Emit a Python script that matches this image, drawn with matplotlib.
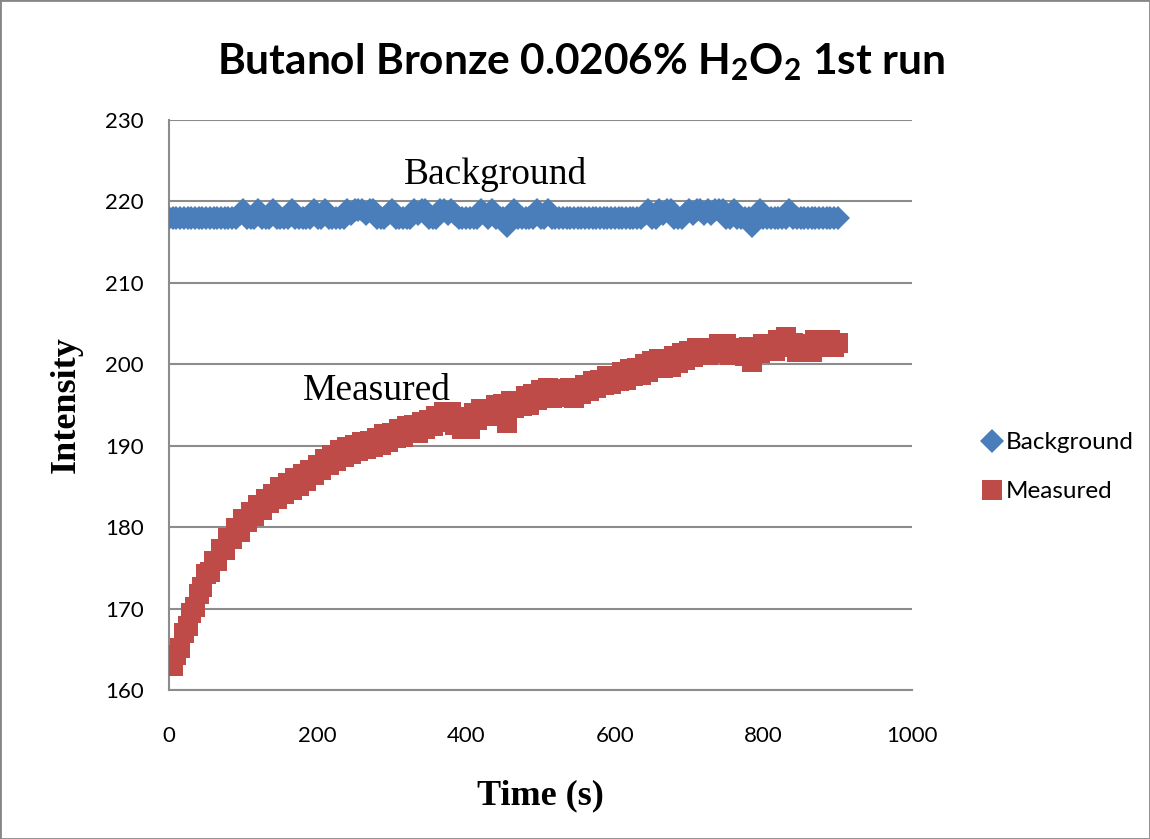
import numpy as np
import matplotlib
matplotlib.use("Agg")
import matplotlib.pyplot as plt
from matplotlib.patches import Rectangle

# sample times (s), one reading every 5 s
time_s = np.arange(0, 901, 5)

# background intensity, 181 readings
background = [
    218, 218, 218, 218, 218, 218, 218, 218, 218, 218,
    218, 218, 218, 218, 218, 218, 218, 218, 218, 218.5,
    219, 218, 218, 218, 219, 218, 218, 218, 219, 218,
    218, 218, 218, 219, 218, 218, 218, 218, 218, 219,
    218, 218, 219, 218, 218, 218, 218, 218, 219, 218.5,
    219, 219, 219, 218.5, 219, 219, 218, 218, 218, 218.5,
    219, 218, 218, 218, 218, 218, 219, 218.5, 219, 219,
    218, 218, 218, 219, 219, 218.5, 219, 218.5, 218, 218,
    218, 218, 218, 218, 219, 218.5, 218, 219, 218, 218,
    218, 217, 218, 219, 218, 218, 218, 218, 218, 219,
    218, 218, 219, 218, 218, 218, 218, 218, 218, 218,
    218, 218, 218, 218, 218, 218, 218, 218, 218, 218,
    218, 218, 218, 218, 218, 218, 218, 218, 218.5, 219,
    218, 218, 219, 218.5, 219, 219, 218, 218, 218, 218.5,
    219, 218.5, 219, 219, 218.5, 219, 218.5, 219, 219, 219,
    218, 218, 219, 218, 218, 218, 218, 217, 218, 219,
    218, 218, 218, 218, 218, 218, 218, 219, 218, 218,
    218, 218, 218, 218, 218, 218, 218, 218, 218, 218,
    218,
]

# measured intensity, 181 readings
measured = [
    163.0, 163.0, 164.3, 165.2, 167.0, 167.8, 169.5, 170.2, 171.8, 172.6,
    174.2, 174.5, 175.9, 175.9, 177.3, 177.2, 178.7, 178.5, 179.9, 179.4,
    181.0, 180.6, 181.9, 181.4, 182.7, 182.1, 183.5, 183.0, 184.1, 183.5,
    184.9, 184.1, 185.4, 184.6, 186.0, 185.1, 186.5, 185.7, 187.0, 186.4,
    187.6, 187.0, 188.4, 187.6, 188.9, 188.1, 189.5, 188.6, 189.9, 189.0,
    190.1, 189.4, 190.5, 189.6, 190.6, 189.9, 191.0, 190.1, 191.4, 190.5,
    191.6, 190.9, 192.0, 191.1, 192.4, 191.5, 192.6, 191.6, 192.9, 192.0,
    193.1, 192.4, 193.6, 192.9, 194.1, 193.0, 194.1, 192.6, 193.1, 192.0,
    193.5, 192.1, 194.0, 193.1, 194.5, 193.6, 194.5, 193.7, 195.0, 194.1,
    195.1, 192.8, 195.5, 194.6, 195.5, 194.9, 196.1, 195.0, 196.4, 195.6,
    196.9, 196.0, 197.1, 195.9, 197.0, 196.1, 196.9, 196.0, 197.1, 195.9,
    197.1, 196.3, 197.5, 196.7, 198.0, 197.1, 198.1, 197.4, 198.5, 197.6,
    198.6, 197.9, 199.0, 198.1, 199.4, 198.5, 199.6, 198.7, 200.0, 199.1,
    200.4, 199.5, 200.6, 199.5, 200.6, 199.7, 201.0, 200.1, 201.4, 200.5,
    201.6, 200.9, 202.0, 201.1, 202.0, 201.1, 202.0, 201.4, 202.5, 201.6,
    202.5, 201.1, 202.0, 201.1, 201.9, 201.0, 202.1, 200.3, 202.0, 201.4,
    202.5, 201.6, 202.5, 201.6, 203.0, 202.1, 203.4, 202.6, 202.6, 201.5,
    202.5, 201.6, 202.4, 201.5, 203.0, 202.1, 202.9, 202.1, 203.0, 202.1,
    202.6,
]

y_ticks = [160, 170, 180, 190, 200, 210, 220, 230]
x_ticks = [0, 200, 400, 600, 800, 1000]

blue = "#4A7EBB"
red = "#BE4B48"
grid_grey = "#8C8C8C"

plt.rcParams["font.family"] = ["Lato", "DejaVu Sans"]
plt.rcParams["mathtext.fontset"] = "custom"
plt.rcParams["mathtext.rm"] = "Lato:bold"
plt.rcParams["mathtext.bf"] = "Lato:bold"

fig = plt.figure(figsize=(11.5, 8.39), dpi=100)
ax = fig.add_axes([0.147, 0.1776, 0.646, 0.6794])

ax.plot(time_s, background, linestyle="none", marker="D", markersize=12.5,
        color=blue, markeredgewidth=0, label="Background", zorder=3)
ax.plot(time_s, measured, linestyle="none", marker="s", markersize=14.5,
        color=red, markeredgewidth=0, label="Measured", zorder=3)

ax.set_xlim(0, 1000)
ax.set_ylim(160, 230)
ax.set_xticks(x_ticks)
ax.set_yticks(y_ticks)
ax.tick_params(axis="both", labelsize=16, length=0, colors="black")
ax.tick_params(axis="x", pad=26)
ax.tick_params(axis="y", pad=18)

ax.grid(True, axis="y", color=grid_grey, linewidth=1.5)
ax.set_axisbelow(True)
for side in ["top", "right"]:
    ax.spines[side].set_visible(False)
for side in ["left", "bottom"]:
    ax.spines[side].set_color(grid_grey)
    ax.spines[side].set_linewidth(1.5)

ax.set_xlabel("Time (s)", family="Liberation Serif", fontweight="bold",
              fontsize=26, labelpad=24)
ax.set_ylabel("Intensity", family="Liberation Serif", fontweight="bold",
              fontsize=26, labelpad=16)

fig.text(0.505, 0.926, r"Butanol Bronze 0.0206% H$_2$O$_2$ 1st run",
         ha="center", va="center", fontsize=30.5, fontweight="bold")

ax.text(440, 223.3, "Background", family="Liberation Serif", fontsize=27,
        ha="center", va="center")
ax.text(280, 196.8, "Measured", family="Liberation Serif", fontsize=27,
        ha="center", va="center")

ax.legend(loc="center left", bbox_to_anchor=(0.852, 0.443),
          bbox_transform=fig.transFigure, frameon=False, fontsize=17.5,
          handletextpad=0.05, labelspacing=1.15, borderaxespad=0,
          handlelength=1.0, borderpad=0)

# chart area border
fig.patches.append(Rectangle((0, 0), 1, 1, transform=fig.transFigure,
                             fill=False, edgecolor="#868686", linewidth=2))

fig.savefig("out.png", dpi=100)
